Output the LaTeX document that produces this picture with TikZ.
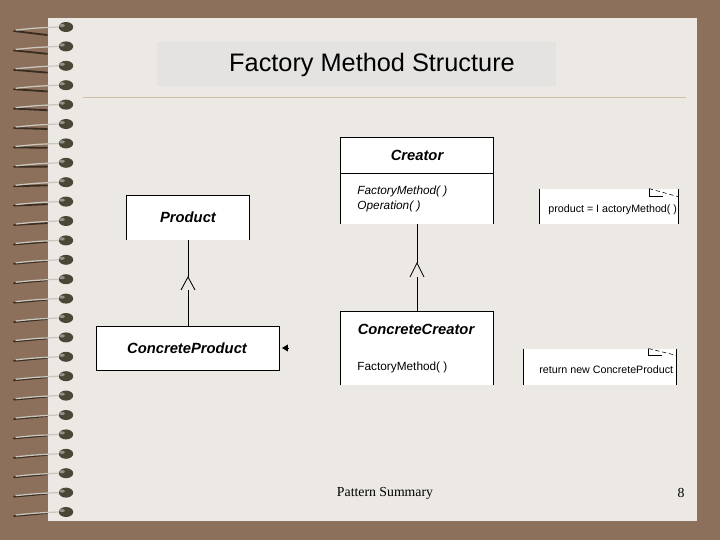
\documentclass[tikz,border=0pt]{standalone}
\usepackage{fontspec}
\setmainfont{Liberation Sans}
\newfontfamily\footfont{Liberation Serif}
\usetikzlibrary{arrows.meta}
\definecolor{deskbrown}{HTML}{8D705B}
\definecolor{paper}{HTML}{ECE8E4}
\definecolor{titlegray}{HTML}{E4E3E2}
\definecolor{rulecol}{HTML}{CDBFA3}
\definecolor{beadcol}{HTML}{4A4737}
\definecolor{wiredark}{HTML}{3A2C20}
\definecolor{wirelight}{HTML}{C9C8BF}
\tikzset{
  classbox/.style={fill=white, inner sep=0pt},
  classname/.style={font=\fontsize{10.5}{12}\selectfont\bfseries\itshape},
  methods/.style={font=\fontsize{8.4}{10.6}\selectfont, align=left, anchor=west, inner sep=0pt},
  notetext/.style={font=\fontsize{7.6}{9}\selectfont, anchor=west, inner sep=0pt}
}
\begin{document}
\begin{tikzpicture}[x=0.025cm, y=-0.025cm, line width=0.6pt]
\useasboundingbox (0,0) rectangle (720,540);
\fill[deskbrown] (0,0) rectangle (720,540);
\fill[paper] (48,18) rectangle (697,521);
\foreach \i in {0,...,25} {
  \pgfmathsetmacro{\y}{27+19.4*\i}
  \pgfmathsetmacro{\d}{max(1,8-0.6*\i)}
  \draw[wiredark, line width=1.3pt, line cap=round] (14,\y+4) -- (47,\y+\d);
  \draw[wirelight, line width=0.9pt, line cap=round] (16,\y+3) .. controls (36,\y+1) .. (58,\y);
  \fill[beadcol] (66,\y) ellipse (0.18cm and 0.125cm);
  \fill[beadcol!60!white] (62,\y-1.5) ellipse (0.07cm and 0.04cm);
}
\fill[titlegray] (157,42) rectangle (556,86);
\node[font=\fontsize{18}{20}\selectfont] (title) at (372,65) {Factory Method Structure};
\draw[rulecol, line width=0.6pt] (83,97) -- (686,97);

\node[classbox, minimum width=3.8cm, minimum height=2.15cm] (cr) at (417,181) {};
\draw (cr.south west) |- (cr.north east) -- (cr.south east);
\draw ([yshift=-0.9cm]cr.north west) -- ([yshift=-0.9cm]cr.north east);
\node[classname] (crname) at (417,155) {Creator};
\node[methods, font=\fontsize{8.4}{10.6}\selectfont\itshape] (crops) at (357,198.5) {FactoryMethod( )\\Operation( )};

\node[classbox, minimum width=3.8cm, minimum height=1.825cm] (cc) at (417,348.5) {};
\draw (cc.south west) |- (cc.north east) -- (cc.south east);
\node[classname] (ccname) at (416,329) {ConcreteCreator};
\node[methods] (ccops) at (357,367) {FactoryMethod( )};

\node[classbox, minimum width=3.05cm, minimum height=1.1cm] (pr) at (188,218) {};
\draw (pr.south west) |- (pr.north east) -- (pr.south east);
\node[classname] (prname) at (188,217) {Product};

\node[classbox, draw, minimum width=4.575cm, minimum height=1.1cm] (cp) at (188,348) {};
\node[classname] (cpname) at (187,348) {ConcreteProduct};

\coordinate (g1) at (417,263);
\coordinate (g1b) at (417,277);
\draw (cr.south) -- (g1);
\draw (g1) ++(-0.175cm,-0.35cm) -- (g1) -- ++(0.175cm,-0.35cm);
\draw (g1b) -- (cc.north);

\coordinate (g2) at (188,277);
\coordinate (g2b) at (188,290);
\draw (pr.south) -- (g2);
\draw (g2) ++(-0.175cm,-0.325cm) -- (g2) -- ++(0.175cm,-0.325cm);
\draw (g2b) -- (cp.north);

\coordinate (dang) at (288,348);
\draw[-{Triangle[length=0.15cm,width=0.17cm]}, shorten >=0.05cm] (dang) -- (cp.east);

\node[classbox, minimum width=3.45cm, minimum height=0.875cm] (n1) at (608.5,206.5) {};
\draw (n1.north west) -- (n1.south west);
\draw (n1.north east) -- (n1.south east);
\draw ([xshift=-0.725cm]n1.north east) -- ++(0,-0.2cm) -- ++(0.35cm,0);
\draw[densely dashed, line width=0.4pt] ([xshift=-0.725cm]n1.north east) -- ([yshift=-0.2cm]n1.north east);
\node[notetext] (n1text) at (548,210) {product = I actoryMethod( )};

\node[classbox, minimum width=3.8cm, minimum height=0.9cm] (n2) at (600,367) {};
\draw (n2.north west) -- (n2.south west);
\draw (n2.north east) -- (n2.south east);
\draw ([xshift=-0.7cm]n2.north east) -- ++(0,-0.17cm) -- ++(0.35cm,0);
\draw[densely dashed, line width=0.4pt] ([xshift=-0.7cm]n2.north east) -- ([yshift=-0.17cm]n2.north east);
\node[notetext] (n2text) at (539,370) {return new ConcreteProduct};

\node[font=\fontsize{9.8}{12}\selectfont\footfont] (foot) at (385,493) {Pattern Summary};
\node[font=\fontsize{9.8}{12}\selectfont\footfont] (page) at (681,493) {8};
\end{tikzpicture}
\end{document}
